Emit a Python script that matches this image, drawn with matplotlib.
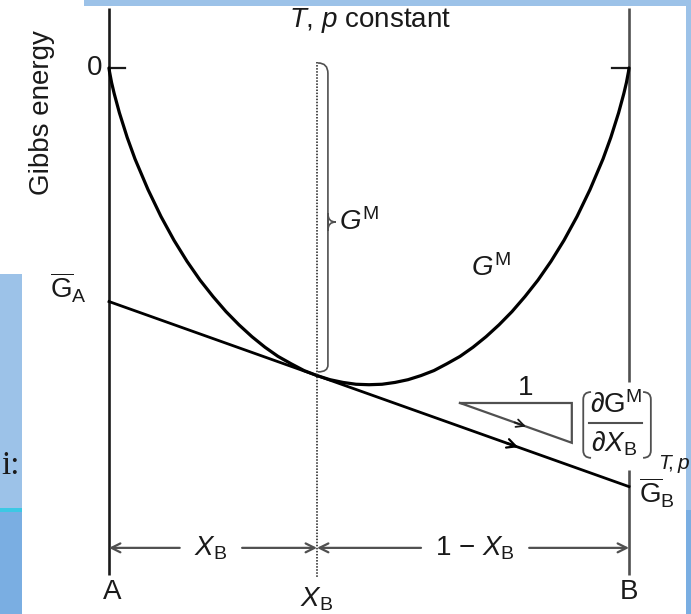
import matplotlib
matplotlib.use("Agg")
import matplotlib.pyplot as plt
from matplotlib.patches import Rectangle, PathPatch
from matplotlib.path import Path

plt.rcParams['font.family'] = 'Liberation Sans'
plt.rcParams['mathtext.fontset'] = 'custom'
plt.rcParams['mathtext.rm'] = 'Liberation Sans'
plt.rcParams['mathtext.it'] = 'Liberation Sans:italic'
plt.rcParams['mathtext.bf'] = 'Liberation Sans:bold'

# mole fraction of B and Gibbs energy of mixing
x_frac = [0.0, 0.001, 0.005, 0.01, 0.02, 0.035, 0.05, 0.075, 0.10, 0.125,
          0.15, 0.175, 0.20, 0.225, 0.25, 0.275, 0.30, 0.325, 0.35, 0.375,
          0.40, 0.425, 0.45, 0.475, 0.50, 0.525, 0.55, 0.575, 0.60, 0.625,
          0.65, 0.675, 0.70, 0.725, 0.75, 0.775, 0.80, 0.825, 0.85, 0.875,
          0.90, 0.925, 0.95, 0.965, 0.98, 0.99, 0.995, 0.999, 1.0]
g_mix = [0.0, -0.008, -0.032, -0.056, -0.098, -0.152, -0.199, -0.266, -0.325,
         -0.377, -0.423, -0.464, -0.500, -0.533, -0.562, -0.588, -0.611,
         -0.631, -0.647, -0.662, -0.673, -0.682, -0.688, -0.692, -0.693,
         -0.692, -0.688, -0.682, -0.673, -0.662, -0.647, -0.631, -0.611,
         -0.588, -0.562, -0.533, -0.500, -0.464, -0.423, -0.377, -0.325,
         -0.266, -0.199, -0.152, -0.098, -0.056, -0.032, -0.008, 0.0]

# composition of the solution and the tangent intercepts
x_b = 0.40
g_at_xb = -0.673
g_a_bar = -0.511
g_b_bar = -0.916

INK = '#1a1a1a'
GREY = '#505050'
FS = 20

fig = plt.figure(figsize=(6.91, 6.14), dpi=100)
fig.patch.set_facecolor('white')

# slide decoration behind the diagram
W, H = 691.0, 614.0
def frect(x0, y0, x1, y1, color):
    fig.add_artist(Rectangle((x0 / W, 1 - y1 / H), (x1 - x0) / W, (y1 - y0) / H,
                             transform=fig.transFigure, color=color, lw=0, zorder=0))

frect(84, 0, 691, 6, '#9cc2e8')
frect(0, 274, 22, 510, '#9cc2e8')
frect(0, 510, 22, 614, '#7aaee2')
frect(0, 508, 22, 512, '#3cc8e4')
frect(686, 6, 691, 510, '#9cc2e8')
frect(686, 510, 691, 614, '#7aaee2')
fig.text(20 / W, 1 - 466 / H, 'i:', fontsize=24, family='Liberation Serif',
         ha='right', va='center', color=INK)

ax = fig.add_axes([0, 0, 1, 1])
ax.set_xlim(-0.2096, 1.1192)
ax.set_ylim(-1.1947, 0.1488)
ax.axis('off')
ax.patch.set_alpha(0)

# frame: pure A on the left, pure B on the right
y_top, y_bot = 0.131, -1.109
ax.plot([0, 0], [y_top, y_bot], color=INK, lw=1.9, solid_capstyle='butt')
ax.plot([1, 1], [y_top, -0.687], color=GREY, lw=1.9, solid_capstyle='butt')
ax.plot([1, 1], [-0.880, y_bot], color=GREY, lw=1.9, solid_capstyle='butt')
ax.plot([0, 0.031], [0, 0], color=INK, lw=1.6)
ax.plot([0.967, 1], [0, 0], color=INK, lw=1.6)

# Gibbs energy of mixing
ax.plot(x_frac, g_mix, color='black', lw=2.3, solid_capstyle='round',
        solid_joinstyle='round')

# tangent at X_B
ax.plot([0, 1], [g_a_bar, g_b_bar], color='black', lw=2.0)
slope = g_b_bar - g_a_bar
xa = 0.775
ax.annotate('', xy=(xa + 0.012, g_a_bar + slope * (xa + 0.012)),
            xytext=(xa - 0.01, g_a_bar + slope * (xa - 0.01)),
            arrowprops=dict(arrowstyle='->', color='black', lw=1.6,
                            mutation_scale=16, shrinkA=0, shrinkB=0))

# composition line
ax.plot([x_b, x_b], [0.013, -1.116], color=INK, lw=1.1, linestyle=(0, (1, 1)))

# brace marking G^M at X_B
bx, tip = 0.421, 0.436
ym = -0.337
brace_verts = [(x_b + 0.002, 0.011), (bx, 0.011), (bx, -0.012),
               (bx, ym - 0.018), (bx, ym), (tip, ym),
               (bx, ym), (bx, ym + 0.018),
               (bx, g_at_xb + 0.023), (bx, g_at_xb + 0.008), (x_b + 0.002, g_at_xb + 0.008)]
brace_codes = [Path.MOVETO, Path.CURVE3, Path.CURVE3,
               Path.LINETO, Path.CURVE3, Path.CURVE3,
               Path.CURVE3, Path.CURVE3,
               Path.LINETO, Path.CURVE3, Path.CURVE3]
ax.add_patch(PathPatch(Path(brace_verts, brace_codes), fill=False,
                       edgecolor=GREY, lw=1.2))
ax.text(0.442, ym, r'$G^{\mathrm{M}}$', fontsize=FS, color=INK, va='center', ha='left')
ax.text(0.735, -0.438, r'$G^{\mathrm{M}}$', fontsize=FS, color=INK, va='center', ha='center')

# slope triangle
tx0, tdx = 0.675, 0.215
ty0 = -0.733
ty1 = ty0 + slope * tdx
ax.plot([tx0, tx0 + tdx, tx0 + tdx, tx0], [ty0, ty0, ty1, ty0],
        color=GREY, lw=1.6, solid_joinstyle='miter')
xm = 0.79
ax.annotate('', xy=(xm + 0.012, ty0 + slope * (xm + 0.012 - tx0)),
            xytext=(xm - 0.01, ty0 + slope * (xm - 0.01 - tx0)),
            arrowprops=dict(arrowstyle='->', color=INK, lw=1.3,
                            mutation_scale=14, shrinkA=0, shrinkB=0))
ax.text(0.802, -0.700, '1', fontsize=FS, color=INK, ha='center', va='center')

# derivative in brackets
ax.text(0.975, -0.737, r'$\partial \mathrm{G}^{\mathrm{M}}$', fontsize=FS, color=INK,
        ha='center', va='center')
ax.plot([0.923, 1.025], [-0.777, -0.777], color=GREY, lw=1.5)
ax.text(0.971, -0.822, r'$\partial X_{\mathrm{B}}$', fontsize=FS, color=INK,
        ha='center', va='center')
for xo, xi in [(0.912, 0.927), (1.042, 1.027)]:
    verts = [(xi, -0.709), (xo, -0.709), (xo, -0.725), (xo, -0.837),
             (xo, -0.853), (xi, -0.853)]
    codes = [Path.MOVETO, Path.CURVE3, Path.CURVE3, Path.LINETO,
             Path.CURVE3, Path.CURVE3]
    ax.add_patch(PathPatch(Path(verts, codes), fill=False, edgecolor=GREY, lw=1.3))
ax.text(1.056, -0.866, r'$T\!,p$', fontsize=15, color=INK, ha='left', va='center')

# composition arrows along the bottom
ya = -1.050
arrow_kw = dict(arrowstyle='->', color=GREY, lw=1.6, mutation_scale=16,
                shrinkA=0, shrinkB=0)
for x_from, x_to in [(0.136, 0.0), (0.256, x_b), (0.600, x_b), (0.808, 1.0)]:
    ax.annotate('', xy=(x_to, ya), xytext=(x_from, ya), arrowprops=arrow_kw)
ax.text(0.196, ya, r'$X_{\mathrm{B}}$', fontsize=FS, color=INK, ha='center', va='center')
ax.text(0.704, ya, r'$1\ \mathrm{-}\ X_{\mathrm{B}}$', fontsize=FS, color=INK,
        ha='center', va='center')

# labels
ax.text(0.006, -1.147, 'A', fontsize=FS, color=INK, ha='center', va='center')
ax.text(1.0, -1.147, 'B', fontsize=FS, color=INK, ha='center', va='center')
ax.text(x_b, -1.163, r'$X_{\mathrm{B}}$', fontsize=FS, color=INK, ha='center', va='center')
ax.text(-0.012, 0.0, '0', fontsize=FS, color=INK, ha='right', va='center')
ax.text(-0.129, -0.098, 'Gibbs energy', fontsize=FS, color=INK, rotation=90,
        ha='center', va='center')
ax.text(-0.079, -0.480, r'$\overline{\mathrm{G}}_{\mathrm{A}}$', fontsize=FS, color=INK,
        ha='center', va='center')
ax.text(1.054, -0.930, r'$\overline{\mathrm{G}}_{\mathrm{B}}$', fontsize=FS, color=INK,
        ha='center', va='center')
ax.text(0.502, 0.105, r'$T$, $p$ constant', fontsize=FS, color=INK,
        ha='center', va='center')

fig.savefig('out.png', dpi=100)
